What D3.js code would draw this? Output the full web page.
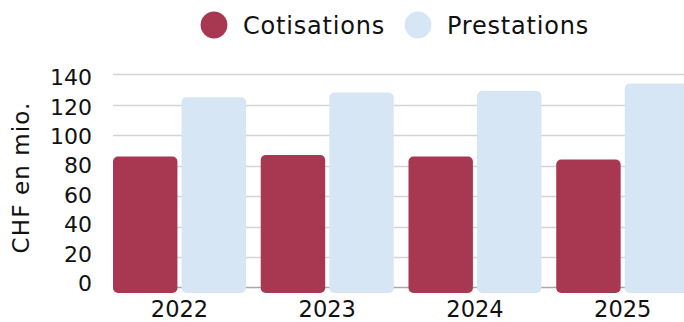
<!DOCTYPE html>
<html><head><meta charset="utf-8">
<script src="https://cdn.jsdelivr.net/npm/d3@7"></script>
<style>body{margin:0;background:#fff;}svg{display:block;font-family:"DejaVu Sans",sans-serif;}</style>
</head><body>
<svg id="c" width="684" height="322"></svg>
<script>
const categories = ["2022", "2023", "2024", "2025"];
const seriesNames = ["Cotisations", "Prestations"];
const cotisations = [86, 87, 86, 84];
const prestations = [125, 128, 129, 134];
const yTicks = [0, 20, 40, 60, 80, 100, 120, 140];
const colors = ["#A83752", "#D6E6F5"];

const svg = d3.select("#c");
const y = d3.scaleLinear().domain([0, 140]).range([287.5, 74.3]);
const yLab = d3.scaleLinear().domain([0, 140]).range([282.5, 77]);
const x0 = d3.scaleBand().domain(categories).range([113, 689.2]).paddingInner(0.1).paddingOuter(0);
const x1 = d3.scaleBand().domain(seriesNames).range([0, x0.bandwidth()]).paddingInner(0.06);

// gridlines
svg.append("g").selectAll("line").data(yTicks.filter(d => d > 0)).join("line")
  .attr("x1", 113).attr("x2", 684)
  .attr("y1", d => Math.round(y(d)) + 0.5).attr("y2", d => Math.round(y(d)) + 0.5)
  .attr("stroke", "#d4d4d4").attr("stroke-width", 1.5);
svg.append("line").attr("x1", 113).attr("x2", 684)
  .attr("y1", y(0)).attr("y2", y(0)).attr("stroke", "#a8a8a8").attr("stroke-width", 1.5);

// y tick labels
const yAxis = d3.axisLeft(yLab).tickValues(yTicks).tickSize(0).tickPadding(0);
const gy = svg.append("g").attr("transform", "translate(92,0)").call(yAxis);
gy.select(".domain").remove();
gy.selectAll("text").attr("font-size", 22).attr("fill", "#111").attr("font-family", "DejaVu Sans,sans-serif").attr("dy", "0.36em");

// axis title
svg.append("text").attr("transform", "translate(29,177.5) rotate(-90)")
  .attr("text-anchor", "middle").attr("font-size", 23).attr("letter-spacing", 1.1)
  .attr("fill", "#111").text("CHF en mio.");

// bars
const data = categories.map((c, i) => ({ cat: c, vals: [
  { s: seriesNames[0], v: cotisations[i] }, { s: seriesNames[1], v: prestations[i] }] }));
const g = svg.append("g").selectAll("g").data(data).join("g")
  .attr("transform", d => `translate(${x0(d.cat)},0)`);
g.selectAll("rect").data(d => d.vals).join("rect")
  .attr("x", d => x1(d.s)).attr("width", x1.bandwidth())
  .attr("y", d => y(d.v)).attr("height", d => y(0) - y(d.v) + 5.5)
  .attr("rx", 5).attr("ry", 5)
  .attr("fill", (d, i) => colors[i]);

// x labels
const xAxis = d3.axisBottom(x0).tickSize(0).tickPadding(0);
const gx = svg.append("g").attr("transform", "translate(0,317)").call(xAxis);
gx.select(".domain").remove();
gx.selectAll("text").attr("font-size", 22.5).attr("fill", "#111").attr("font-family", "DejaVu Sans,sans-serif").attr("dy", "0");

// legend
const legX = [214, 418];
const leg = svg.append("g").selectAll("g").data(seriesNames).join("g")
  .attr("transform", (d, i) => `translate(${legX[i]},25)`);
leg.append("circle").attr("r", 13.4).attr("fill", (d, i) => colors[i]);
leg.append("text").attr("x", 29).attr("dy", "0.36em").attr("font-size", 24).attr("letter-spacing", 0.8)
  .attr("fill", "#111").text(d => d);
</script>
</body></html>
